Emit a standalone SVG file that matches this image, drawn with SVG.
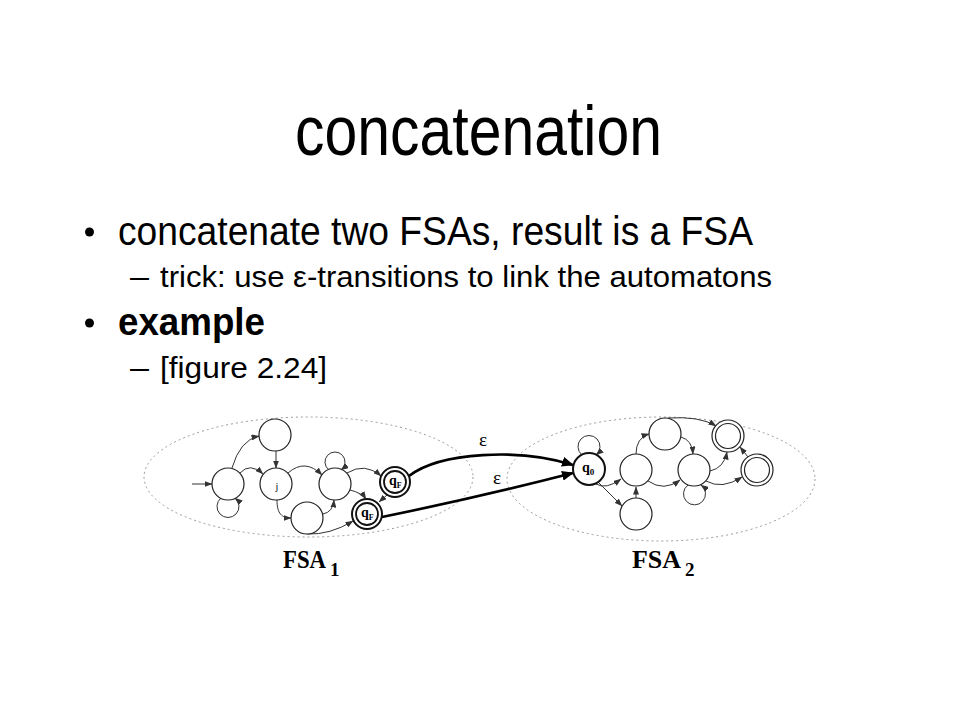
<svg xmlns="http://www.w3.org/2000/svg" width="960" height="720" viewBox="0 0 960 720">
<style>
.sans{font-family:"Liberation Sans",Arial,sans-serif;fill:#000}
.serif{font-family:"Liberation Serif","Times New Roman",serif;fill:#000}
.st{fill:#fff;stroke:#222;stroke-width:1.2}
.fin{fill:#fff;stroke:#111;stroke-width:2}
.fin2{fill:none;stroke:#111;stroke-width:1.8}
.ell{fill:none;stroke:#999;stroke-width:1;stroke-dasharray:2 3}
.e{fill:none;stroke:#333;stroke-width:1;marker-end:url(#ah)}
.eps{fill:none;stroke:#000;stroke-width:2.6;marker-end:url(#ahb)}
.ql{font-family:"Liberation Serif","Times New Roman",serif;font-weight:bold;font-size:14px;fill:#000}
</style>
<defs>
<marker id="ah" markerUnits="userSpaceOnUse" markerWidth="8" markerHeight="6" refX="7.5" refY="3" orient="auto">
<path d="M0,0 L8,3 L0,6 z" fill="#333"/>
</marker>
<marker id="ahb" markerUnits="userSpaceOnUse" markerWidth="12" markerHeight="10" refX="11" refY="5" orient="auto">
<path d="M0,0 L12,5 L0,10 z" fill="#000"/>
</marker>
</defs>
<rect width="960" height="720" fill="#fff"/>

<g id="title">
<text class="sans" x="295" y="155" font-size="70" textLength="367" lengthAdjust="spacingAndGlyphs">concatenation</text>
</g>

<g id="bullets">
<circle cx="89.5" cy="232" r="4.5" fill="#000"/>
<text class="sans" x="118" y="245" font-size="40" textLength="635" lengthAdjust="spacingAndGlyphs">concatenate two FSAs, result is a FSA</text>
<text class="sans" x="130" y="287" font-size="29" textLength="19" lengthAdjust="spacingAndGlyphs">–</text>
<text class="sans" x="160" y="287" font-size="29" textLength="612" lengthAdjust="spacingAndGlyphs">trick: use ε-transitions to link the automatons</text>
<circle cx="89.5" cy="323" r="4.5" fill="#000"/>
<text class="sans" x="118" y="335" font-size="39" font-weight="bold" textLength="147" lengthAdjust="spacingAndGlyphs">example</text>
<text class="sans" x="130" y="378" font-size="29" textLength="19" lengthAdjust="spacingAndGlyphs">–</text>
<text class="sans" x="160" y="378" font-size="29" textLength="167" lengthAdjust="spacingAndGlyphs">[figure 2.24]</text>
</g>

<g id="regions">
<ellipse class="ell" cx="308.5" cy="477" rx="164.5" ry="60"/>
<ellipse class="ell" cx="661" cy="479" rx="154" ry="62"/>
</g>

<g id="connectors">
<!-- FSA1 -->
<path class="e" d="M192 484 L212 484"/>
<path class="e" d="M232 468 Q240 440 259 436"/>
<path class="e" d="M240 473 Q250 462 263 474"/>
<path class="e" d="M276 451 L276 468"/>
<path class="e" d="M288 473 Q305 458 322 475"/>
<path class="e" d="M277 500 C277 514 282 518 291 518"/>
<path class="e" d="M323 514 Q333 512 334 500"/>
<path class="e" d="M347 473 Q365 462 381 476"/>
<path class="e" d="M350 490 Q362 493 366 499"/>
<path class="e" d="M387 495 L379 502"/>
<path class="e" d="M307 534 Q330 535 353 521"/>
<path class="e" d="M221 498 A11 11 0 1 0 235 498"/>
<path class="e" d="M329 470 A10 10 0 1 1 341 470"/>
<!-- epsilon links -->
<path class="eps" d="M409 476 C440 452 520 448 573 465"/>
<path class="eps" d="M382 517 Q480 497 573 473"/>
<!-- FSA2 -->
<path class="e" d="M582 455 A11 11 0 1 1 596 455"/>
<path class="e" d="M596 484 Q606 490 621 479"/>
<path class="e" d="M598 482 Q612 496 622 506"/>
<path class="e" d="M636 498 L636 487"/>
<path class="e" d="M636 454 Q636 438 649 434"/>
<path class="e" d="M648 481 Q664 492 680 480"/>
<path class="e" d="M681 437 Q692 440 693 454"/>
<path class="e" d="M668 418 Q700 416 716 426"/>
<path class="e" d="M710 471 Q724 468 727 452"/>
<path class="e" d="M748 457 L740 447"/>
<path class="e" d="M706 481 Q722 490 742 477"/>
<path class="e" d="M688 485 A11 11 0 1 0 701 485"/>
</g>

<g id="fsa1-nodes">
<g id="n-a"><circle class="st" cx="228" cy="484" r="16"/></g>
<g id="n-t"><circle class="st" cx="275" cy="435" r="16"/></g>
<g id="n-j"><circle class="st" cx="276" cy="484" r="16"/><text class="serif" x="277" y="490" font-size="10" text-anchor="middle">j</text></g>
<g id="n-m"><circle class="st" cx="335" cy="484" r="16"/></g>
<g id="n-b"><circle class="st" cx="307" cy="518" r="16"/></g>
<g id="n-qf1"><circle class="fin" cx="395" cy="482" r="15"/><circle class="fin2" cx="395" cy="482" r="11"/><text class="ql" x="389" y="485">q<tspan font-size="8" dy="3">F</tspan></text></g>
<g id="n-qf2"><circle class="fin" cx="367" cy="514" r="15"/><circle class="fin2" cx="367" cy="514" r="11"/><text class="ql" x="361" y="517">q<tspan font-size="8" dy="3">F</tspan></text></g>
</g>

<g id="fsa2-nodes">
<g id="n-q0"><circle class="st" style="stroke-width:2;stroke:#111" cx="589" cy="469" r="16"/><text class="ql" x="582" y="472">q<tspan font-size="9" dy="3">0</tspan></text></g>
<g id="n-n1"><circle class="st" cx="636" cy="470" r="16"/></g>
<g id="n-n2"><circle class="st" cx="636" cy="514" r="16"/></g>
<g id="n-n3"><circle class="st" cx="665" cy="434" r="16"/></g>
<g id="n-n4"><circle class="st" cx="694" cy="470" r="16"/></g>
<g id="n-f1"><circle class="st" cx="728" cy="436" r="16"/><circle class="st" style="fill:none" cx="728" cy="436" r="12.5"/></g>
<g id="n-f2"><circle class="st" cx="757" cy="470" r="16"/><circle class="st" style="fill:none" cx="757" cy="470" r="12.5"/></g>
</g>

<g id="labels">
<text class="serif" x="483" y="446" font-size="19" text-anchor="middle">ε</text>
<text class="serif" x="497" y="484" font-size="19" text-anchor="middle">ε</text>
<text class="serif" x="283" y="568" font-size="25" font-weight="bold" textLength="43" lengthAdjust="spacingAndGlyphs">FSA</text>
<text class="serif" x="330" y="576" font-size="19" font-weight="bold">1</text>
<text class="serif" x="632" y="568" font-size="25" font-weight="bold" textLength="49" lengthAdjust="spacingAndGlyphs">FSA</text>
<text class="serif" x="685" y="576" font-size="19" font-weight="bold">2</text>
</g>
</svg>
